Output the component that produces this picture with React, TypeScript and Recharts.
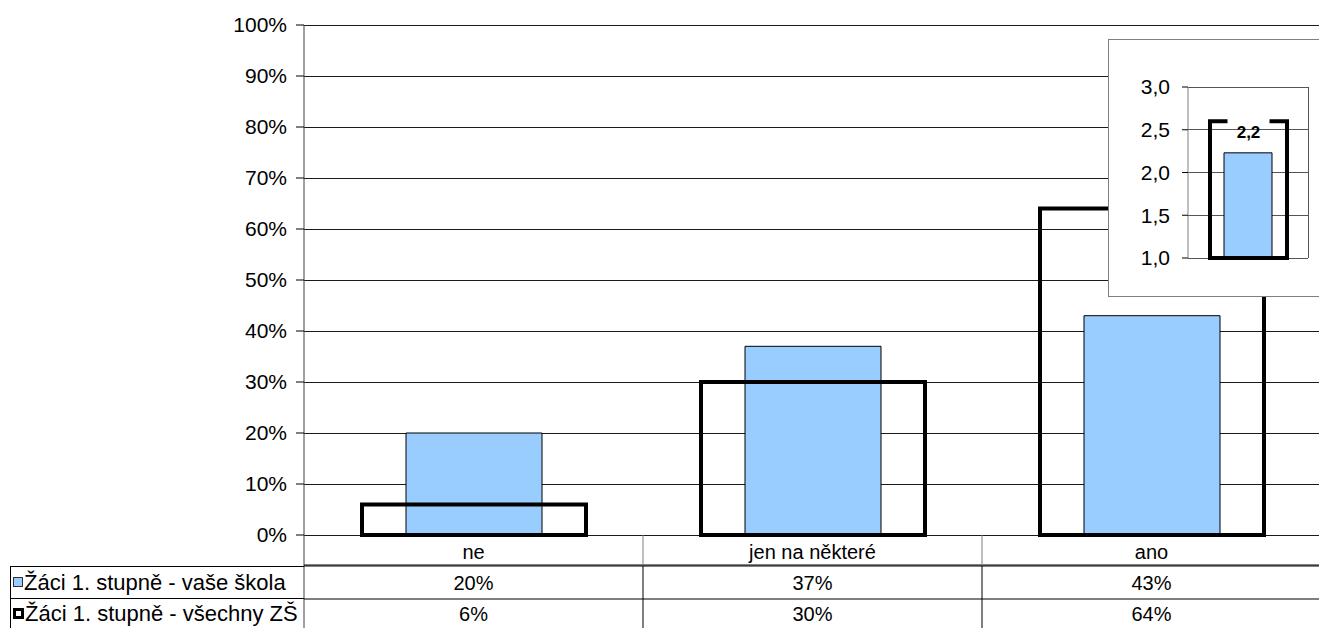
import React from "react";
import { BarChart, Bar, XAxis, YAxis, CartesianGrid, LabelList } from "recharts";

const categories = ["ne", "jen na některé", "ano"];
const schoolValues = [20, 37, 43];
const allValues = [6, 30, 64];
const yTicks = [0, 10, 20, 30, 40, 50, 60, 70, 80, 90, 100];

const seriesNames = ["Žáci 1. stupně - vaše škola", "Žáci 1. stupně - všechny ZŠ"];

const insetSchool = [2.23];
const insetAll = [2.6];
const insetTicks = [1, 1.5, 2, 2.5, 3];

const FONT = "'Liberation Sans', Arial, sans-serif";
const BLUE = "#99ccff";
const TICK_FS = 21;
const CELL_FS = 20;
const LEGEND_FS = 22;

const rows = categories.map((name, i) => ({
  name,
  school: schoolValues[i],
  all: allValues[i],
}));

const insetRows = insetSchool.map((v, i) => ({ name: "avg", school: v, all: insetAll[i] }));

const PLOT_BOTTOM = 535;
const ROW1 = 566;
const ROW2 = 599;
const BOTTOM = 628;

const TableTick = (props: any) => {
  const { x, payload } = props;
  const i = payload.index;
  const half = payload.offset || 169.5;
  const left = x - half;
  const right = x + half;
  return (
    <g fontFamily={FONT} fontSize={CELL_FS} fill="#000">
      {i === 0 && <line x1={left} y1={PLOT_BOTTOM} x2={left} y2={BOTTOM} stroke="#404040" />}
      <line x1={right} y1={PLOT_BOTTOM} x2={right} y2={ROW1} stroke="#808080" />
      <line x1={right} y1={ROW1} x2={right} y2={BOTTOM} stroke="#000" />
      <line x1={left} y1={ROW1} x2={right} y2={ROW1} stroke="#000" />
      <line x1={left} y1={ROW2} x2={right} y2={ROW2} stroke="#000" />
      <text x={x} y={(PLOT_BOTTOM + ROW1) / 2 + 1} textAnchor="middle" dominantBaseline="central">
        {payload.value}
      </text>
      <text x={x} y={(ROW1 + ROW2) / 2} textAnchor="middle" dominantBaseline="central">
        {schoolValues[i]}%
      </text>
      <text x={x} y={(ROW2 + BOTTOM) / 2} textAnchor="middle" dominantBaseline="central">
        {allValues[i]}%
      </text>
    </g>
  );
};

const fmtComma = (v: number) => v.toFixed(1).replace(".", ",");

const InsetLabel = (props: any) => {
  const { x, y, width, value } = props;
  const cx = x + width / 2;
  return (
    <g>
      <rect x={cx - 21} y={y - 4} width={42} height={8} fill="#fff" />
      <text
        x={cx}
        y={y + 11}
        textAnchor="middle"
        dominantBaseline="central"
        fontFamily={FONT}
        fontWeight="bold"
        fontSize={17}
        fill="#000"
      >
        {fmtComma(value)}
      </text>
    </g>
  );
};

const Swatch = ({ kind }: { kind: "school" | "all" }) => (
  <span
    style={{
      display: "inline-block",
      width: kind === "school" ? 8 : 5,
      height: kind === "school" ? 8 : 5,
      background: kind === "school" ? BLUE : "#fff",
      border: kind === "school" ? "1px solid #333" : "3px solid #000",
      marginRight: 1,
      marginLeft: 2,
      verticalAlign: "middle",
      position: "relative",
      top: -2,
    }}
  />
);

export default function App() {
  return (
    <div
      style={{
        position: "absolute",
        left: 0,
        top: 0,
        width: 1319,
        height: 628,
        overflow: "hidden",
        background: "#fff",
        fontFamily: FONT,
      }}
    >
      <BarChart
        width={1321}
        height={628}
        data={rows}
        margin={{ top: 25, right: 0, left: 0, bottom: 0 }}
        barGap={0}
      >
        <CartesianGrid vertical={false} stroke="#1a1a1a" shapeRendering="crispEdges" />
        <XAxis
          xAxisId="school"
          dataKey="name"
          height={93}
          interval={0}
          axisLine={{ stroke: "#000" }}
          tickLine={false}
          tick={<TableTick />}
        />
        <XAxis xAxisId="all" dataKey="name" hide />
        <YAxis
          width={304}
          domain={[0, 100]}
          ticks={yTicks}
          interval={0}
          tickFormatter={(v) => `${v}%`}
          tickSize={8}
          tickMargin={9}
          tickLine={{ stroke: "#000" }}
          axisLine={{ stroke: "#404040" }}
          tick={{ fontSize: TICK_FS, fill: "#000", fontFamily: FONT }}
        />
        <Bar
          xAxisId="school"
          dataKey="school"
          barSize={136}
          fill={BLUE}
          stroke="#000"
          strokeWidth={1}
          isAnimationActive={false}
        />
        <Bar
          xAxisId="all"
          dataKey="all"
          barSize={224}
          fill="none"
          stroke="#000"
          strokeWidth={4}
          isAnimationActive={false}
        />
      </BarChart>

      <div
        style={{
          position: "absolute",
          left: 10,
          top: ROW1,
          width: 294,
          height: BOTTOM - ROW1,
          borderLeft: "1px solid #000",
          borderTop: "1px solid #000",
          boxSizing: "border-box",
          fontSize: LEGEND_FS,
          color: "#000",
          whiteSpace: "nowrap",
        }}
      >
        <div
          style={{
            height: ROW2 - ROW1 - 1,
            lineHeight: `${ROW2 - ROW1 - 1}px`,
            borderBottom: "1px solid #000",
            boxSizing: "border-box",
          }}
        >
          <Swatch kind="school" />
          {seriesNames[0]}
        </div>
        <div style={{ height: BOTTOM - ROW2, lineHeight: `${BOTTOM - ROW2}px` }}>
          <Swatch kind="all" />
          {seriesNames[1]}
        </div>
      </div>

      <div
        style={{
          position: "absolute",
          left: 1108,
          top: 39,
          width: 240,
          height: 258,
          background: "#fff",
          border: "1px solid #808080",
          boxSizing: "border-box",
        }}
      >
        <BarChart
          width={220}
          height={256}
          data={insetRows}
          margin={{ top: 47, right: 21, left: 0, bottom: 38 }}
          barGap={0}
        >
          <CartesianGrid
            stroke="#555"
            shapeRendering="crispEdges"
            verticalCoordinatesGenerator={({ offset }: any) => [offset.left + offset.width]}
          />
          <XAxis xAxisId="school" dataKey="name" hide />
          <XAxis xAxisId="all" dataKey="name" hide />
          <YAxis
            width={79}
            domain={[1, 3]}
            ticks={insetTicks}
            interval={0}
            tickFormatter={fmtComma}
            tickSize={6}
            tickMargin={12}
            tickLine={{ stroke: "#000" }}
            axisLine={{ stroke: "#808080" }}
            tick={{ fontSize: TICK_FS, fill: "#000", fontFamily: FONT }}
          />
          <Bar
            xAxisId="school"
            dataKey="school"
            barSize={48}
            fill={BLUE}
            stroke="#000"
            strokeWidth={1}
            isAnimationActive={false}
          />
          <Bar
            xAxisId="all"
            dataKey="all"
            barSize={77}
            fill="none"
            stroke="#000"
            strokeWidth={4}
            isAnimationActive={false}
          >
            <LabelList dataKey="school" content={<InsetLabel />} />
          </Bar>
        </BarChart>
      </div>
    </div>
  );
}
